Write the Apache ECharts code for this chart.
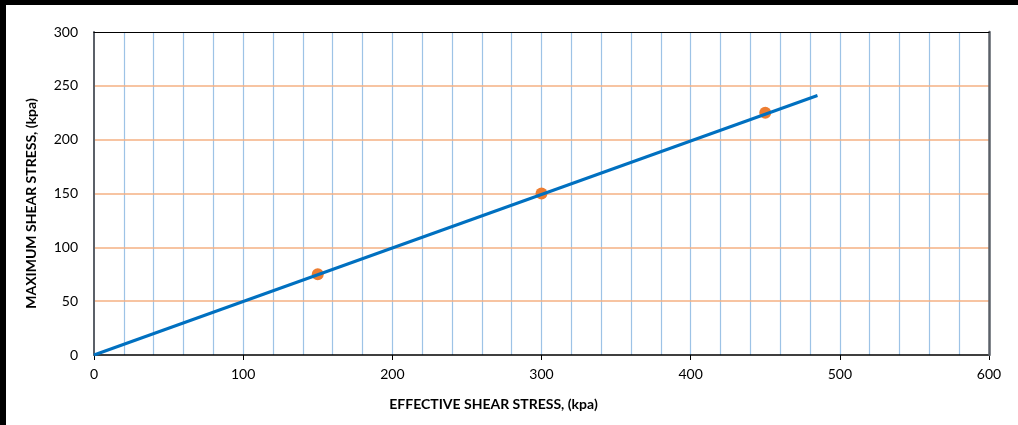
<!DOCTYPE html>
<html>
<head>
<meta charset="utf-8">
<script src="https://cdn.jsdelivr.net/npm/echarts@6/dist/echarts.min.js"></script>
<style>
html,body{margin:0;padding:0;background:#fff;}
#chart{width:1018px;height:425px;}
</style>
</head>
<body>
<div id="chart"></div>
<script>
// test points
var testX = [150, 300, 450];
var testY = [75, 150, 225];
// failure envelope (fitted line)
var lineX = [0, 485];
var lineY = [0, 241];

var myChart = echarts.init(document.getElementById('chart'));

var pts = [];
for (var i = 0; i < testX.length; i++) pts.push([testX[i], testY[i]]);
var env = [];
for (var k = 0; k < lineX.length; k++) env.push([lineX[k], lineY[k]]);

var option = {
	animation: false,
	grid: {left: 94, right: 29, top: 32, bottom: 70},
	xAxis: [{
		type: 'value',
		min: 0, max: 600, interval: 100,
		name: 'EFFECTIVE SHEAR STRESS, (kpa)',
		nameLocation: 'middle',
		nameGap: 42,
		nameTextStyle: {
			fontFamily: 'Lato', fontWeight: 'bold', fontSize: 14, color: '#000',
			padding: [0, 96, 0, 0]
		},
		axisLine: {show: true, lineStyle: {color: '#000', width: 1.5}},
		axisTick: {show: true, length: 5, lineStyle: {color: '#000'}},
		axisLabel: {fontFamily: 'Lato', fontSize: 14, color: '#000', margin: 12},
		splitLine: {show: true, showMinLine: false, showMaxLine: false, lineStyle: {color: '#9dc3e6', width: 1.2}},
		minorTick: {show: false, splitNumber: 5},
		minorSplitLine: {show: true, lineStyle: {color: '#9dc3e6', width: 1.2}},
		z: 1
	}, {
		// top frame edge
		type: 'value', position: 'top',
		min: 0, max: 600, interval: 100,
		axisLine: {show: true, onZero: false, lineStyle: {color: '#000', width: 1.2}},
		axisTick: {show: false},
		axisLabel: {show: false},
		splitLine: {show: false},
		z: 5
	}],
	yAxis: [{
		type: 'value',
		min: 0, max: 300, interval: 50,
		name: 'MAXIMUM SHEAR STRESS, (kpa)',
		nameLocation: 'middle',
		nameGap: 56,
		nameTextStyle: {
			fontFamily: 'Lato', fontWeight: 'bold', fontSize: 14, color: '#000',
			padding: [0, 20, 0, 0]
		},
		axisLine: {show: true, lineStyle: {color: '#5b6068', width: 2}},
		axisTick: {show: false},
		axisLabel: {fontFamily: 'Lato', fontSize: 14, color: '#000', margin: 16},
		splitLine: {show: true, showMinLine: false, showMaxLine: false, lineStyle: {color: '#f4b183', width: 1.5}},
		z: 2
	}, {
		// right frame edge
		type: 'value', position: 'right',
		min: 0, max: 300, interval: 50,
		axisLine: {show: true, onZero: false, lineStyle: {color: '#5b6068', width: 2.5}},
		axisTick: {show: false},
		axisLabel: {show: false},
		splitLine: {show: false},
		z: 5
	}],
	series: [
		{
			name: 'tests',
			type: 'scatter',
			data: pts,
			symbol: 'circle',
			symbolSize: 12,
			itemStyle: {color: '#ed7d31', opacity: 1},
			z: 2
		},
		{
			name: 'envelope',
			type: 'line',
			data: env,
			showSymbol: false,
			lineStyle: {color: '#0070c0', width: 3},
			z: 3
		}
	],
	graphic: [
		{type: 'rect', shape: {x: 0, y: 0, width: 1018, height: 5}, style: {fill: '#000'}},
		{type: 'rect', shape: {x: 0, y: 0, width: 6, height: 425}, style: {fill: '#000'}}
	]
};
myChart.setOption(option);
</script>
</body>
</html>
